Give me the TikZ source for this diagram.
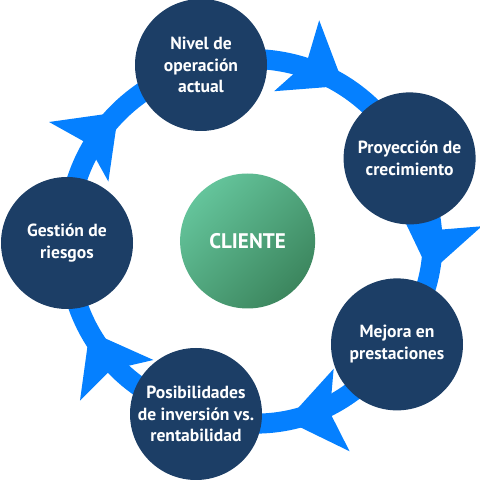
\documentclass[tikz,border=0pt]{standalone}
\usepackage{fontspec}
\setmainfont{PT Sans}
\usetikzlibrary{arrows.meta, decorations.markings, backgrounds}

\definecolor{stagenavy}{RGB}{28,62,102}
\definecolor{ringblue}{RGB}{5,128,255}
\definecolor{greenlight}{RGB}{100,196,155}
\definecolor{greendark}{RGB}{60,134,94}

\begin{document}
\begin{tikzpicture}[
  stage/.style={circle, fill=stagenavy, text=white, minimum size=3.3cm, inner sep=0pt,
    align=center, font=\fontsize{12.5}{15.5}\selectfont\bfseries},
  ring/.style={draw=ringblue, line width=0.5cm, postaction={decorate},
    decoration={markings, mark=at position 0.6 with
      {\arrow[ringblue]{Stealth[length=14mm,width=21mm,inset=3mm,line width=0pt]}}}}
]
\useasboundingbox (0,0) rectangle (12,12);

% Stages
\node[stage] (nivel)  at (5.025,10.375) {Nivel de\\operación\\actual};
\node[stage] (proy)   at (10.24,8.04)   {Proyección de\\crecimiento};
\node[stage] (mejora) at (9.925,3.39)   {Mejora en\\prestaciones};
\node[stage] (posib)  at (4.9,1.65)     {Posibilidades\\de inversión vs.\\rentabilidad};
\node[stage] (riesgo) at (1.675,5.925)  {Gestión de\\riesgos};

% Center
\node[circle, minimum size=3.375cm, top color=greenlight, bottom color=greendark,
  shading angle=45, text=white, font=\fontsize{15}{18}\selectfont\bfseries]
  (cliente) at (6.19,5.975) {CLIENTE};

% Ring with arrows
\begin{scope}[on background layer]
\draw[ring] (nivel.center)  to[bend left=38] (proy.center);
\draw[ring] (proy.center)   to[bend left=32] (mejora.center);
\draw[ring] (mejora.center) to[bend left=37] (posib.center);
\draw[ring] (posib.center)  to[bend left=36] (riesgo.center);
\draw[ring] (riesgo.center) to[bend left=37] (nivel.center);
\end{scope}

\end{tikzpicture}
\end{document}
